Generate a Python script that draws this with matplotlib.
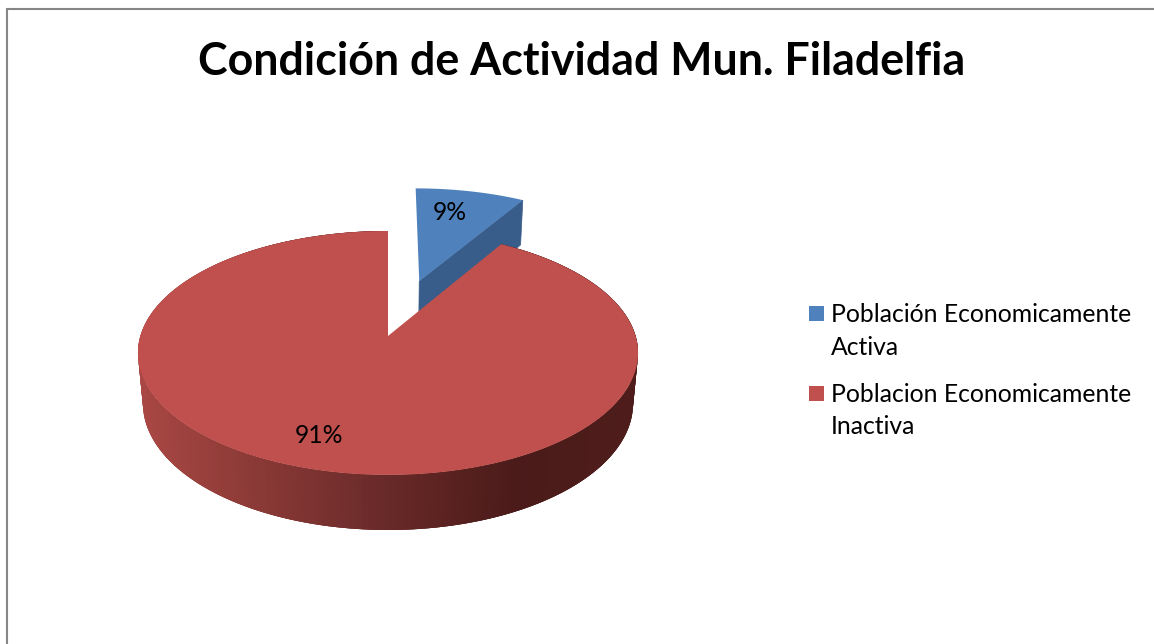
import numpy as np # array, linspace
import matplotlib
matplotlib.use('Agg')
import matplotlib.pyplot as plt # figure, show
from matplotlib.patches import Polygon, Rectangle

plt.rcParams['font.family'] = ['Lato', 'DejaVu Sans']

# DATA ######
titulo = 'Condición de Actividad Mun. Filadelfia'
categorias = ['Población Economicamente\nActiva', 'Poblacion Economicamente\nInactiva']
valores = [8.55, 91.45]
colores_top = ['#4F81BD', '#C0504D']

# GEOMETRY ###### (projective camera fitted to the picture, in pixels)
cx = 388.
radio = 247.6
cam_a, cam_b, cam_c = -72.9, 336., 0.139
prof_e, prof_f = 58., 0.02
explosion = 0.508


def proyecta(u, v, abajo=False):
    e = prof_e if abajo else 0.
    f = prof_f if abajo else 0.
    w = cam_c * v + 1 + f
    return np.column_stack([cx + radio * u / w, (cam_a * v + cam_b + e) / w])


def arco(t0, t1, n=200):
    t = np.radians(np.linspace(t0, t1, n))
    return np.sin(t), np.cos(t)


def color_lado(x):
    xs = [143, 250, 375, 450, 520, 632]
    rs = [0xA8, 0x8C, 0x6B, 0x5A, 0x4A, 0x4E]
    gs = [0x47, 0x3A, 0x2B, 0x22, 0x1B, 0x1D]
    bs = [0x43, 0x37, 0x2A, 0x20, 0x1A, 0x1B]
    return (np.interp(x, xs, rs) / 255, np.interp(x, xs, gs) / 255, np.interp(x, xs, bs) / 255)


fig = plt.figure(figsize=(11.54, 6.44), dpi=100)
ax = fig.add_axes([0, 0, 1, 1])
ax.set_xlim(0, 1154)
ax.set_ylim(644, 0)
ax.axis('off')

# Chart border (only left and top fall inside the picture)
ax.plot([7, 7, 1154], [644, 8.5, 8.5], color='#868686', lw=1.5, solid_joinstyle='miter')

# Slices ######
angulo = 360. * valores[0] / sum(valores)

# Blue slice, pulled out along its bisector
medio = np.radians(angulo / 2)
du, dv = explosion * np.sin(medio), explosion * np.cos(medio)
fin_u, fin_v = np.sin(np.radians(angulo)), np.cos(np.radians(angulo))
pared = np.vstack([proyecta(np.array([du, du + fin_u]), np.array([dv, dv + fin_v])),
                   proyecta(np.array([du + fin_u, du]), np.array([dv + fin_v, dv]), abajo=True)])
ax.add_patch(Polygon(pared, closed=True, fc='#385D8A', ec='#385D8A', lw=0.5, zorder=2))
u, v = arco(0, angulo)
azul = np.vstack([proyecta(np.array([du]), np.array([dv])), proyecta(u + du, v + dv)])
ax.add_patch(Polygon(azul, closed=True, fc=colores_top[0], ec='none', zorder=3))

# Red slice: outer wall as overlapping strips (each one painted over the last), then the top
u, v = arco(angulo, 360, 240)
arriba = proyecta(u, v)
abajo = proyecta(u, v, abajo=True)
for i in range(len(u) - 1):
    fin = min(i + 4, len(u))
    quad = np.vstack([arriba[i:fin], abajo[i:fin][::-1]])
    col = color_lado(arriba[i:i + 2, 0].mean())
    ax.add_patch(Polygon(quad, closed=True, fc=col, ec='none', zorder=4))
rojo = np.vstack([proyecta(np.array([0.]), np.array([0.])), arriba])
ax.add_patch(Polygon(rojo, closed=True, fc=colores_top[1], ec='none', zorder=5))

# Percent labels
ax.text(450, 212, '{:.0f}%'.format(valores[0]), fontsize=17.8, ha='center', va='center', color='black', zorder=6)
ax.text(319, 435, '{:.0f}%'.format(valores[1]), fontsize=17.8, ha='center', va='center', color='black', zorder=6)

# Title
ax.text(582, 62, titulo, fontsize=32.2, fontweight='bold', ha='center', va='center', color='black')

# Legend
base_y = [[322, 355], [402, 434]]
for i in range(len(categorias)):
    ax.add_patch(Rectangle((809, base_y[i][0] - 16), 15, 15, fc=colores_top[i], ec='none'))
    for linea, y in zip(categorias[i].split('\n'), base_y[i]):
        ax.text(831, y, linea, fontsize=17.8, ha='left', va='baseline', color='black')

fig.savefig('out.png', dpi=100, facecolor='white')
